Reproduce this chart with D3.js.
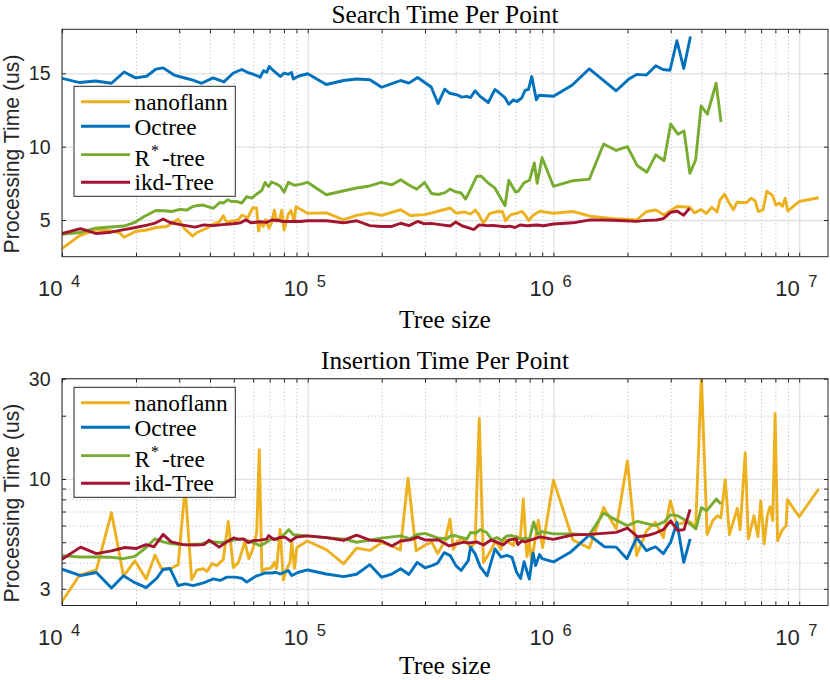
<!DOCTYPE html>
<html>
<head>
<meta charset="utf-8">
<script src="https://cdn.jsdelivr.net/npm/d3@7"></script>
<style>
  body { margin: 0; background: #fff; }
</style>
</head>
<body>
<div id="chart"></div>
<script>
// ---- data: [tree size, processing time (us)] ----
const seriesNames = ["nanoflann", "Octree", "R*-tree", "ikd-Tree"];
const seriesColors = ["#EDB120", "#0072BD", "#77AC30", "#A2142F"];

const nanoSearch = [[1e4,3.06],[1.18e4,3.94],[1.37e4,4.32],[1.58e4,4.28],[1.72e4,4.11],[1.79e4,3.82],[1.99e4,4.22],[2.22e4,4.32],[2.41e4,4.49],[2.67e4,4.56],[2.97e4,5.05],[3.14e4,4.44],[3.40e4,3.90],[3.54e4,4.15],[3.88e4,4.44],[4.13e4,4.73],[4.35e4,4.83],[4.53e4,5.29],[4.68e4,4.86],[4.94e4,4.93],[5.23e4,5.03],[5.40e4,5.34],[5.69e4,5.14],[5.97e4,5.82],[6.19e4,5.82],[6.31e4,4.25],[6.43e4,4.90],[6.60e4,4.56],[6.75e4,5.03],[6.95e4,4.44],[7.13e4,4.80],[7.31e4,5.68],[7.48e4,4.91],[7.71e4,5.14],[7.84e4,5.68],[8.01e4,4.32],[8.32e4,5.37],[8.55e4,5.65],[8.80e4,4.93],[8.96e4,5.90],[9.97e4,5.46],[1.19e5,5.49],[1.40e5,5.02],[1.58e5,5.32],[1.79e5,5.48],[2.00e5,5.32],[2.39e5,5.70],[2.61e5,5.31],[3.00e5,5.37],[3.36e5,5.58],[3.80e5,5.82],[4.02e5,5.46],[4.33e5,5.55],[4.60e5,5.41],[4.80e5,5.68],[4.95e5,5.41],[5.19e5,4.78],[5.50e5,5.44],[5.92e5,5.58],[6.21e5,5.56],[6.38e5,4.95],[6.71e5,5.37],[7.11e5,5.46],[7.43e5,5.60],[7.66e5,5.36],[7.94e5,4.97],[8.26e5,5.32],[8.80e5,5.60],[1.00e6,5.46],[1.20e6,5.58],[1.41e6,5.26],[1.73e6,5.10],[2.18e6,5.00],[2.39e6,5.58],[2.61e6,5.68],[2.82e6,5.35],[2.97e6,5.60],[3.18e6,5.92],[3.38e6,5.90],[3.59e6,5.87],[3.75e6,5.49],[3.99e6,5.72],[4.19e6,5.44],[4.41e6,5.87],[4.63e6,5.55],[4.76e6,6.36],[4.97e6,6.77],[5.17e6,6.21],[5.40e6,5.70],[5.58e6,6.21],[6.12e6,6.19],[6.37e6,6.49],[6.62e6,6.32],[6.81e6,5.58],[7.13e6,5.70],[7.38e6,6.96],[7.80e6,6.66],[8.04e6,6.01],[8.28e6,6.15],[8.55e6,5.94],[8.77e6,6.49],[8.98e6,5.63],[1.00e7,6.26],[1.20e7,6.52]];

const octSearch = [[1e4,14.66],[1.18e4,14.37],[1.37e4,14.48],[1.59e4,14.32],[1.79e4,15.09],[1.99e4,14.69],[2.21e4,14.80],[2.41e4,15.29],[2.58e4,15.37],[2.86e4,14.88],[3.16e4,14.68],[3.41e4,14.54],[3.70e4,14.32],[4.12e4,14.69],[4.56e4,14.42],[4.98e4,15.02],[5.39e4,15.26],[5.73e4,15.04],[6.19e4,14.85],[6.40e4,14.73],[6.60e4,15.17],[6.81e4,15.07],[6.97e4,15.46],[7.25e4,15.18],[7.75e4,14.78],[8.01e4,15.02],[8.34e4,14.93],[8.59e4,15.05],[8.74e4,14.61],[9.14e4,14.80],[1.00e5,14.97],[1.19e5,14.24],[1.40e5,14.51],[1.58e5,14.61],[1.79e5,14.56],[2.00e5,14.05],[2.20e5,14.30],[2.39e5,14.51],[2.58e5,14.33],[2.80e5,14.71],[3.18e5,14.07],[3.39e5,12.94],[3.61e5,13.92],[3.78e5,13.64],[4.04e5,13.54],[4.24e5,13.38],[4.44e5,13.43],[4.60e5,13.35],[4.80e5,13.81],[5.03e5,13.43],[5.43e5,13.01],[5.78e5,13.90],[6.35e5,13.34],[6.58e5,12.89],[6.87e5,13.19],[7.09e5,13.08],[7.43e5,13.32],[7.66e5,13.83],[7.91e5,13.90],[8.16e5,14.78],[8.52e5,13.19],[8.73e5,13.50],[1.00e6,13.44],[1.19e6,14.19],[1.40e6,15.31],[1.80e6,13.81],[2.02e6,14.59],[2.19e6,14.93],[2.39e6,14.88],[2.61e6,15.51],[2.79e6,15.26],[2.98e6,15.21],[3.18e6,17.22],[3.39e6,15.33],[3.61e6,17.51]];

const rstarSearch = [[1e4,4.03],[1.18e4,4.15],[1.37e4,4.45],[1.58e4,4.52],[1.79e4,4.59],[1.99e4,4.86],[2.16e4,5.24],[2.41e4,5.65],[2.60e4,5.63],[2.80e4,5.58],[3.02e4,5.72],[3.23e4,5.68],[3.38e4,5.89],[3.51e4,5.97],[3.75e4,6.02],[3.89e4,5.93],[4.13e4,5.80],[4.40e4,6.21],[4.53e4,6.15],[4.72e4,6.38],[4.92e4,6.26],[5.15e4,6.26],[5.39e4,6.16],[5.65e4,6.60],[5.92e4,6.49],[6.20e4,6.77],[6.50e4,7.01],[6.70e4,7.56],[6.92e4,7.28],[7.13e4,7.59],[7.39e4,7.49],[7.71e4,7.32],[8.01e4,6.89],[8.34e4,7.57],[8.80e4,7.37],[9.31e4,7.43],[9.98e4,7.57],[1.19e5,6.72],[1.42e5,7.01],[1.58e5,7.18],[1.76e5,7.30],[1.99e5,7.57],[2.20e5,7.40],[2.39e5,7.74],[2.58e5,7.39],[2.78e5,7.10],[2.99e5,7.56],[3.19e5,6.81],[3.40e5,6.74],[3.62e5,6.87],[3.80e5,7.11],[3.98e5,6.93],[4.21e5,6.84],[4.39e5,6.42],[4.58e5,7.04],[4.87e5,7.97],[5.07e5,8.00],[5.37e5,7.59],[5.78e5,7.17],[6.35e5,5.97],[6.58e5,7.71],[7.01e5,6.91],[7.19e5,6.96],[7.59e5,7.54],[7.99e5,7.71],[8.36e5,8.89],[8.58e5,7.51],[8.99e5,9.25],[1.00e6,7.30],[1.20e6,7.68],[1.40e6,7.79],[1.60e6,10.18],[1.80e6,9.74],[2.00e6,10.00],[2.19e6,8.72],[2.40e6,8.26],[2.61e6,9.44],[2.82e6,9.04],[3.00e6,11.54],[3.21e6,10.85],[3.40e6,11.07],[3.59e6,8.18],[3.79e6,9.10],[3.99e6,12.78],[4.23e6,12.21],[4.59e6,14.33],[4.81e6,11.68]];

const ikdSearch = [[1e4,4.08],[1.19e4,4.41],[1.38e4,4.08],[1.58e4,4.17],[1.79e4,4.35],[1.99e4,4.49],[2.22e4,4.65],[2.41e4,4.81],[2.58e4,5.07],[2.75e4,4.83],[3.02e4,4.69],[3.48e4,4.52],[3.78e4,4.67],[4.13e4,4.62],[4.50e4,4.69],[4.97e4,4.75],[5.33e4,4.81],[5.60e4,5.01],[5.88e4,4.81],[6.40e4,4.88],[6.81e4,4.84],[7.13e4,5.00],[7.59e4,4.97],[7.96e4,4.90],[8.47e4,4.90],[8.74e4,4.92],[9.31e4,4.90],[9.95e4,4.95],[1.19e5,4.95],[1.40e5,4.81],[1.58e5,4.95],[1.79e5,4.62],[2.00e5,4.56],[2.20e5,4.56],[2.39e5,4.78],[2.58e5,4.62],[2.80e5,4.90],[2.97e5,4.75],[3.18e5,4.77],[3.45e5,4.69],[3.80e5,4.59],[4.00e5,4.86],[4.24e5,4.61],[4.45e5,4.50],[4.75e5,4.35],[4.98e5,4.67],[5.37e5,4.62],[5.69e5,4.63],[6.04e5,4.58],[6.35e5,4.54],[6.63e5,4.58],[6.98e5,4.49],[7.31e5,4.66],[7.81e5,4.61],[8.55e5,4.66],[9.10e5,4.61],[1.00e6,4.73],[1.20e6,4.81],[1.41e6,5.01],[1.75e6,4.98],[2.18e6,4.91],[2.32e6,4.96],[2.63e6,5.00],[2.80e6,5.10],[2.99e6,5.51],[3.18e6,5.61],[3.39e6,5.33],[3.58e6,5.80]];

const nanoInsert = [[1e4,2.61],[1.18e4,3.49],[1.38e4,3.69],[1.59e4,6.92],[1.78e4,3.45],[1.98e4,4.08],[2.2e4,3.34],[2.39e4,4.34],[2.54e4,3.74],[2.75e4,3.74],[2.97e4,3.91],[3.17e4,9.09],[3.37e4,3.32],[3.54e4,3.69],[3.76e4,3.74],[3.89e4,3.63],[4.08e4,3.96],[4.26e4,3.87],[4.53e4,4.13],[4.75e4,6.28],[4.98e4,3.79],[5.22e4,4.00],[5.55e4,5.02],[5.76e4,4.17],[5.99e4,4.67],[6.2e4,5.56],[6.35e4,13.78],[6.51e4,3.63],[6.7e4,3.73],[6.91e4,3.75],[7.14e4,3.79],[7.31e4,4.01],[7.47e4,3.74],[7.72e4,5.76],[7.96e4,3.30],[8.22e4,3.74],[8.47e4,4.01],[8.61e4,5.04],[8.83e4,3.76],[9.03e4,4.72],[9.95e4,5.07],[1.19e5,4.61],[1.40e5,3.95],[1.58e5,4.69],[1.79e5,4.57],[2.0e5,4.98],[2.2e5,4.80],[2.38e5,4.59],[2.56e5,10.09],[2.76e5,4.55],[3.01e5,4.85],[3.2e5,5.00],[3.38e5,4.42],[3.62e5,5.09],[3.79e5,6.43],[3.92e5,4.63],[4.05e5,5.04],[4.24e5,5.20],[4.42e5,5.04],[4.6e5,4.72],[4.8e5,4.98],[4.99e5,19.45],[5.19e5,4.00],[5.52e5,4.50],[5.81e5,5.07],[6.11e5,4.63],[6.25e5,5.19],[6.45e5,5.09],[6.68e5,4.93],[6.87e5,4.82],[7.04e5,5.36],[7.33e5,5.19],[7.54e5,8.03],[7.79e5,4.28],[7.98e5,5.00],[8.16e5,4.01],[8.34e5,4.82],[8.68e5,6.37],[9.03e5,4.72],[1.0e6,9.87],[1.2e6,5.12],[1.4e6,4.69],[1.6e6,7.31],[1.8e6,5.80],[2.0e6,12.18],[2.18e6,4.32],[2.39e6,5.66],[2.6e6,6.22],[2.8e6,5.26],[2.99e6,7.86],[3.18e6,6.07],[3.38e6,6.19],[3.61e6,6.25],[3.79e6,5.87],[4.0e6,31],[4.22e6,5.44],[4.45e6,6.34],[4.65e6,6.69],[4.8e6,6.54],[5.0e6,9.92],[5.2e6,5.44],[5.6e6,7.25],[5.75e6,5.74],[6.03e6,13.29],[6.21e6,5.19],[6.55e6,6.69],[6.79e6,5.32],[6.98e6,7.89],[7.2e6,4.91],[7.42e6,6.69],[7.61e6,7.38],[7.81e6,6.34],[7.98e6,20.5],[8.17e6,5.09],[8.5e6,5.68],[8.85e6,6.00],[8.95e6,7.97],[1.0e7,6.62],[1.2e7,8.96]];

const octInsert = [[1e4,3.72],[1.19e4,3.47],[1.38e4,3.59],[1.59e4,3.03],[1.78e4,3.46],[1.96e4,3.23],[2.2e4,3.04],[2.43e4,3.37],[2.58e4,3.71],[2.75e4,3.75],[2.97e4,3.11],[3.17e4,3.17],[3.42e4,3.11],[3.76e4,3.20],[4.13e4,3.35],[4.4e4,3.29],[4.68e4,3.41],[5.06e4,3.41],[5.39e4,3.37],[5.65e4,3.23],[5.92e4,3.35],[6.16e4,3.45],[6.4e4,3.50],[6.7e4,3.57],[7.14e4,3.57],[7.41e4,3.60],[7.72e4,3.53],[8.03e4,3.60],[8.34e4,3.67],[8.61e4,3.47],[9.16e4,3.60],[1.0e5,3.69],[1.19e5,3.53],[1.4e5,3.43],[1.58e5,3.52],[1.79e5,3.91],[2.0e5,3.41],[2.2e5,3.53],[2.39e5,3.74],[2.58e5,3.51],[2.79e5,4.01],[3.0e5,3.78],[3.2e5,3.87],[3.38e5,3.98],[3.59e5,4.46],[3.8e5,4.32],[4.01e5,3.87],[4.21e5,3.67],[4.5e5,4.09],[4.6e5,4.74],[4.8e5,4.40],[5.03e5,3.83],[5.37e5,3.46],[5.78e5,4.65],[6.12e5,4.25],[6.47e5,4.33],[6.78e5,4.24],[7.08e5,3.60],[7.35e5,3.36],[7.59e5,4.04],[7.98e5,3.34],[8.26e5,4.44],[8.46e5,3.87],[8.78e5,4.37],[8.99e5,4.18],[1.0e6,4.03],[1.18e6,4.51],[1.4e6,5.41],[1.61e6,4.76],[1.8e6,4.74],[1.99e6,4.17],[2.18e6,5.26],[2.39e6,4.56],[2.6e6,4.76],[2.8e6,4.41],[3.0e6,5.00],[3.18e6,6.22],[3.39e6,4.01],[3.6e6,5.19]];

const rstarInsert = [[1e4,4.32],[1.18e4,4.25],[1.39e4,4.25],[1.58e4,4.24],[1.78e4,4.18],[1.98e4,4.28],[2.2e4,4.72],[2.39e4,5.19],[2.58e4,5.02],[2.79e4,4.91],[3.21e4,4.86],[3.69e4,4.91],[4.0e4,5.04],[4.44e4,4.98],[4.78e4,5.06],[5.34e4,5.19],[5.77e4,5.07],[6.4e4,4.82],[6.77e4,4.98],[7.14e4,5.19],[7.5e4,5.15],[7.93e4,5.38],[8.38e4,5.74],[8.74e4,5.43],[9.95e4,5.36],[1.19e5,5.26],[1.42e5,5.17],[1.58e5,5.00],[1.76e5,5.10],[1.99e5,5.23],[2.39e5,5.36],[2.61e5,5.19],[2.79e5,5.44],[3.0e5,5.51],[3.38e5,5.24],[3.68e5,5.19],[3.8e5,5.35],[3.98e5,5.38],[4.18e5,5.29],[4.45e5,5.19],[4.6e5,5.56],[4.84e5,5.53],[5.03e5,5.74],[5.35e5,5.56],[5.61e5,5.15],[5.88e5,5.26],[6.16e5,5.09],[6.45e5,5.35],[6.77e5,5.38],[7.33e5,5.19],[7.7e5,5.23],[7.98e5,5.15],[8.31e5,6.25],[8.61e5,5.45],[8.96e5,5.62],[1.0e6,5.48],[1.2e6,5.48],[1.4e6,5.42],[1.6e6,6.89],[1.8e6,6.37],[2.0e6,6.00],[2.2e6,6.29],[2.4e6,6.13],[2.6e6,6.00],[2.82e6,6.25],[3.0e6,6.75],[3.2e6,6.69],[3.39e6,6.43],[3.58e6,6.14],[3.8e6,5.79],[4.0e6,7.31],[4.2e6,7.05],[4.6e6,8.03],[4.8e6,7.61]];

const ikdInsert = [[1e4,4.15],[1.19e4,4.74],[1.38e4,4.41],[1.59e4,4.55],[1.8e4,4.72],[2.01e4,4.67],[2.2e4,4.87],[2.37e4,4.76],[2.58e4,5.45],[2.78e4,5.02],[3.11e4,4.87],[3.48e4,4.85],[3.78e4,4.87],[3.97e4,5.12],[4.36e4,4.74],[4.68e4,5.02],[5.0e4,5.24],[5.25e4,5.16],[5.48e4,5.19],[5.73e4,4.98],[5.99e4,5.09],[6.4e4,5.12],[6.81e4,5.17],[6.93e4,5.38],[7.29e4,5.15],[7.72e4,5.27],[8.08e4,5.29],[8.51e4,5.07],[9.0e4,5.29],[9.95e4,5.36],[1.19e5,5.26],[1.4e5,5.10],[1.58e5,5.40],[1.79e5,5.12],[2.0e5,5.07],[2.2e5,4.80],[2.39e5,5.07],[2.61e5,5.13],[2.8e5,5.29],[3.02e5,5.12],[3.41e5,5.12],[3.76e5,4.80],[4.04e5,4.91],[4.33e5,5.01],[4.53e5,4.96],[4.87e5,5.02],[5.19e5,4.85],[5.56e5,5.12],[5.95e5,4.98],[6.24e5,4.86],[6.6e5,5.13],[7.06e5,5.19],[7.16e5,4.87],[7.43e5,5.07],[7.66e5,5.02],[8.18e5,5.15],[8.82e5,5.30],[1.0e6,5.16],[1.2e6,5.42],[1.4e6,5.45],[1.8e6,5.57],[2.0e6,5.84],[2.2e6,5.31],[2.4e6,5.38],[2.6e6,5.53],[2.8e6,5.74],[3.0e6,6.32],[3.2e6,5.69],[3.4e6,5.74],[3.6e6,7.17]];

// axis settings
const xDomain = [1e4, 1.31e7];
const xTickExponents = [4, 5, 6, 7];
const searchYTicks = [5, 10, 15];
const insertYTicks = [3, 10, 30];
const insertYMinor = [4, 5, 6, 7, 8, 9, 20];

const serif = "'Liberation Serif', 'Times New Roman', serif";
const sans = "'Liberation Sans', Arial, Helvetica, sans-serif";

const width = 830, height = 680;
const left = 62, right = 828;

const svg = d3.select("#chart").append("svg")
    .attr("width", width)
    .attr("height", height);

const x = d3.scaleLog().domain(xDomain).range([left, right]);
const xMajor = xTickExponents.map(e => Math.pow(10, e));
let xMinor = [];
xTickExponents.forEach(e => {
    for (let k = 2; k <= 9; k++) {
        let v = k * Math.pow(10, e);
        if (v < xDomain[1]) xMinor.push(v);
    }
});

const panels = [
    { title: "Search Time Per Point", top: 29.3, bottom: 256.7,
      y: d3.scaleLinear().domain([2.5, 18]),
      yTicks: searchYTicks, yMinor: [],
      series: [nanoSearch, octSearch, rstarSearch, ikdSearch],
      titleY: 22.6, xLabelY: 328, legendTop: 86.3 },
    { title: "Insertion Time Per Point", top: 378.7, bottom: 605.5,
      y: d3.scaleLog().domain([2.5, 30]),
      yTicks: insertYTicks, yMinor: insertYMinor,
      series: [nanoInsert, octInsert, rstarInsert, ikdInsert],
      titleY: 368.5, xLabelY: 674.2, legendTop: 387.3 }
];

panels.forEach((p, pi) => {
    let y = p.y.range([p.bottom, p.top]);
    let h = p.bottom - p.top;
    let w = right - left;
    let g = svg.append("g");

    // grid lines
    let styleGrid = (sel, color, dash, sw) => {
        sel.select(".domain").remove();
        sel.selectAll("line").attr("stroke", color).attr("stroke-width", sw)
            .attr("stroke-dasharray", dash);
    };
    g.append("g").attr("transform", `translate(0,${p.bottom})`)
        .call(d3.axisBottom(x).tickValues(xMinor).tickSize(-h).tickFormat(""))
        .call(s => styleGrid(s, "#b8b8b8", "1,2.6", 1));
    if (p.yMinor.length) {
        g.append("g").attr("transform", `translate(${left},0)`)
            .call(d3.axisLeft(y).tickValues(p.yMinor).tickSize(-w).tickFormat(""))
            .call(s => styleGrid(s, "#b8b8b8", "1,2.6", 1));
    }
    g.append("g").attr("transform", `translate(0,${p.bottom})`)
        .call(d3.axisBottom(x).tickValues(xMajor).tickSize(-h).tickFormat(""))
        .call(s => styleGrid(s, "#e1e1e1", null, 1.3));
    g.append("g").attr("transform", `translate(${left},0)`)
        .call(d3.axisLeft(y).tickValues(p.yTicks).tickSize(-w).tickFormat(""))
        .call(s => styleGrid(s, "#e1e1e1", null, 1.3));

    // data lines, clipped to the axes box
    svg.append("clipPath").attr("id", "clip" + pi)
        .append("rect").attr("x", left).attr("y", p.top).attr("width", w).attr("height", h);
    let line = d3.line().x(d => x(d[0])).y(d => y(d[1]));
    g.append("g").attr("clip-path", `url(#clip${pi})`)
        .selectAll("path").data(p.series).enter().append("path")
        .attr("d", line)
        .attr("fill", "none")
        .attr("stroke", (d, i) => seriesColors[i])
        .attr("stroke-width", 2.9)
        .attr("stroke-linejoin", "round");

    // inward ticks on all four sides
    let styleTicks = sel => {
        sel.select(".domain").remove();
        sel.selectAll("line").attr("stroke", "#262626").attr("stroke-width", 1);
    };
    let xAll = xMajor.concat(xMinor);
    g.append("g").attr("transform", `translate(0,${p.bottom})`)
        .call(d3.axisBottom(x).tickValues(xAll).tickSize(-4).tickFormat("")).call(styleTicks);
    g.append("g").attr("transform", `translate(0,${p.top})`)
        .call(d3.axisTop(x).tickValues(xAll).tickSize(-4).tickFormat("")).call(styleTicks);
    let yAll = p.yTicks.concat(p.yMinor);
    g.append("g").attr("transform", `translate(${left},0)`)
        .call(d3.axisLeft(y).tickValues(yAll).tickSize(-4).tickFormat("")).call(styleTicks);
    g.append("g").attr("transform", `translate(${right},0)`)
        .call(d3.axisRight(y).tickValues(yAll).tickSize(-4).tickFormat("")).call(styleTicks);

    // box
    g.append("rect").attr("x", left).attr("y", p.top).attr("width", w).attr("height", h)
        .attr("fill", "none").attr("stroke", "#262626").attr("stroke-width", 1);

    // y tick labels
    g.selectAll(".ylab").data(p.yTicks).enter().append("text")
        .attr("x", 50.5).attr("y", d => y(d) + 7)
        .attr("text-anchor", "end")
        .style("font-family", sans).style("font-size", "19.5px").attr("fill", "#262626")
        .text(d => d);

    // x tick labels: 10^n
    let xl = g.selectAll(".xlab").data(xTickExponents).enter().append("text")
        .attr("x", d => x(Math.pow(10, d)) - 24)
        .attr("y", p.bottom + 39.4)
        .style("font-family", sans).style("font-size", "22px").attr("fill", "#262626");
    xl.append("tspan").text("10");
    xl.append("tspan").attr("dx", 8.5).attr("dy", -9).style("font-size", "16.5px").text(d => d);

    // title and axis labels
    g.append("text").attr("x", (left + right) / 2).attr("y", p.titleY)
        .attr("text-anchor", "middle")
        .style("font-family", serif).style("font-size", "25.3px").attr("fill", "#000")
        .text(p.title);
    g.append("text").attr("x", (left + right) / 2).attr("y", p.xLabelY)
        .attr("text-anchor", "middle")
        .style("font-family", serif).style("font-size", "25.5px").attr("fill", "#000")
        .text("Tree size");
    g.append("text")
        .attr("transform", `translate(19.4,${(p.top + p.bottom) / 2 + 11}) rotate(-90)`)
        .attr("text-anchor", "middle")
        .style("font-family", sans).style("font-size", "21.2px").attr("fill", "#262626")
        .text("Processing Time (us)");

    // legend
    let lg = g.append("g").attr("transform", `translate(74,${p.legendTop})`);
    lg.append("rect").attr("width", 161.3).attr("height", 110)
        .attr("fill", "#fff").attr("stroke", "#262626").attr("stroke-width", 1);
    let rowLine = [15.5, 40, 68.3, 96];
    let rowText = [24, 48.8, 79.6, 104.2];
    seriesNames.forEach((name, i) => {
        lg.append("line").attr("x1", 7).attr("x2", 56)
            .attr("y1", rowLine[i]).attr("y2", rowLine[i])
            .attr("stroke", seriesColors[i]).attr("stroke-width", 2.9);
        let t = lg.append("text").attr("x", 60.5).attr("y", rowText[i])
            .style("font-family", serif).style("font-size", "23.3px").attr("fill", "#000");
        if (name === "R*-tree") {
            t.append("tspan").text("R");
            t.append("tspan").attr("dx", 1).attr("dy", -10).style("font-size", "16px").text("*");
            t.append("tspan").attr("dx", 3).attr("dy", 10).text("-tree");
        } else {
            t.text(name);
        }
    });
});
</script>
</body>
</html>
